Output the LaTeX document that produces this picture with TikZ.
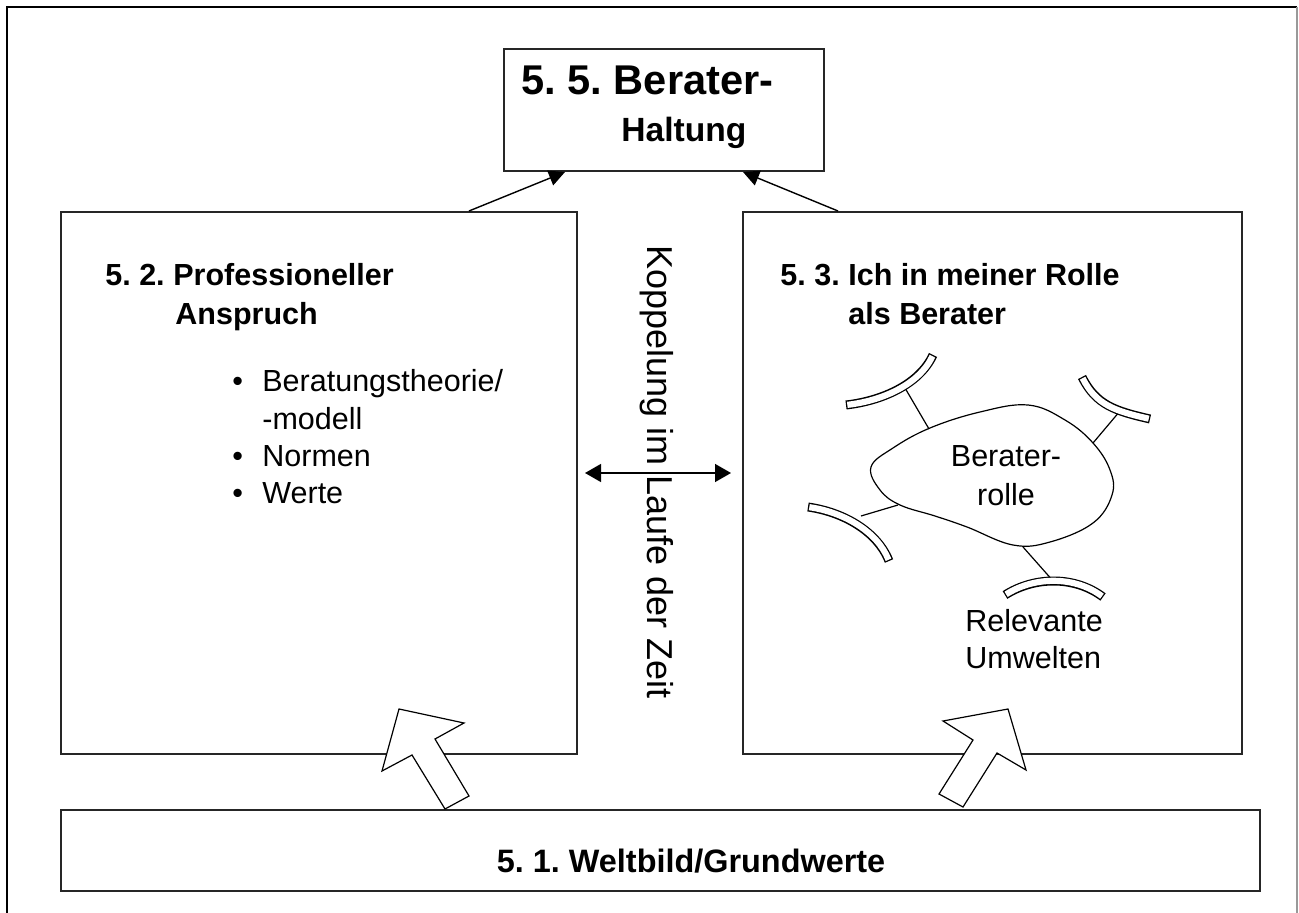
\documentclass[tikz,border=0pt]{standalone}
\usepackage{fontspec}
\setmainfont{Liberation Sans}
\usetikzlibrary{arrows.meta}
\begin{document}
\frenchspacing
\begin{tikzpicture}[x=0.5pt,y=-0.5pt,
  box/.style={draw=black!85, line width=1pt, fill=none, inner sep=0pt},
  txt/.style={font=\fontsize{15.25pt}{18pt}\selectfont, inner sep=0pt, anchor=base west},
  head/.style={font=\fontsize{15.25pt}{18pt}\selectfont\bfseries, inner sep=0pt, anchor=base west},
  link/.style={line width=0.7pt, -{Triangle[length=8pt,width=7.8pt]}},
  both/.style={line width=0.7pt, {Triangle[length=8pt,width=9pt]}-{Triangle[length=8pt,width=9pt]}},
  band/.style={draw=white, line width=3.1pt, line cap=butt, shorten <=0.65pt, shorten >=0.65pt,
    preaction={draw=black, line width=4.5pt, line cap=butt, shorten <=0pt, shorten >=0pt}},
  tie/.style={line width=0.6pt},
  blockarrow/.style={draw, fill=white, line width=0.6pt, line join=miter},
]
\useasboundingbox (0,0) rectangle (1299,913);
% page frame
\draw[line width=1pt] (7,913) -- (7,7) -- (1297,7);
\draw[line width=0.6pt, black!40] (1297,7) -- (1297,913);

% boxes
\node[box, anchor=north west, minimum width=160pt, minimum height=61pt] (haltung) at (503,48) {};
\node[box, anchor=north west, minimum width=258pt, minimum height=271pt] (prof) at (60,211) {};
\node[box, anchor=north west, minimum width=249.5pt, minimum height=271pt] (rolle) at (742,211) {};
\node[box, anchor=north west, minimum width=599.5pt, minimum height=40.5pt] (welt) at (60,809) {};

% links into the top box
\draw[link] ([xshift=204.5pt]prof.north west) -- ([xshift=-49.5pt]haltung.south);
\draw[link] ([xshift=48pt]rolle.north west) -- ([xshift=39.5pt]haltung.south);

% coupling arrow
\draw[both] ([xshift=3.5pt,yshift=5pt]prof.east) -- ([xshift=-5.5pt,yshift=5pt]rolle.west);
\node[font=\fontsize{18pt}{20pt}\selectfont, inner sep=0pt, anchor=base, rotate=-90] (zeit) at (647,472) {Koppelung im Laufe der Zeit};

% block arrows from the base
\draw[blockarrow] (399,709) -- (464,723) -- (435,739) -- (469,796) -- (445,809) -- (412,755) -- (382,771) -- cycle;
\draw[blockarrow] (1008,709) -- (943,721) -- (973,740) -- (939,794) -- (963,807) -- (997,753) -- (1026,770) -- cycle;

% texts
\node[font=\fontsize{20.8pt}{24pt}\selectfont\bfseries, inner sep=0pt, anchor=base west] (h1) at (521,95) {5. 5. Berater-};
\node[font=\fontsize{16.8pt}{20pt}\selectfont\bfseries, inner sep=0pt, anchor=base west] (h2) at (621,142) {Haltung};

\node[head] (p1n) at (105,286) {5. 2.};
\node[head] (p1) at (173,286) {Professioneller};
\node[head] (p2) at (175,325) {Anspruch};
\node[txt] (b1) at (232,392) {\textbullet};
\node[txt] (t1) at (262,392) {Beratungstheorie/};
\node[txt] (t1b) at (262,430) {-modell};
\node[txt] (b2) at (232,467) {\textbullet};
\node[txt] (t2) at (262,467) {Normen};
\node[txt] (b3) at (232,504) {\textbullet};
\node[txt] (t3) at (262,504) {Werte};

\node[head] (r1n) at (780,286) {5. 3.};
\node[head] (r1) at (848,286) {Ich in meiner Rolle};
\node[head] (r2) at (848,325) {als Berater};

\node[font=\fontsize{16.2pt}{18pt}\selectfont\bfseries, inner sep=0pt, anchor=base] (w) at (691,872) {5. 1. Weltbild/Grundwerte};

% role blob
\draw[line width=0.6pt] plot[smooth cycle, tension=0.65] coordinates {
  (871,467) (893,448) (930,428) (980,412) (1028,405) (1065,420) (1093,443)
  (1110,470) (1112,495) (1093,523) (1050,542) (1013,545) (967,527) (935,516) (900,505) (880,490)};
\node[font=\fontsize{15.25pt}{18pt}\selectfont, inner sep=0pt, anchor=base] (br1) at (1006,467) {Berater-};
\node[font=\fontsize{15.25pt}{18pt}\selectfont, inner sep=0pt, anchor=base] (br2) at (1006,506) {rolle};

% environment bands and ties
\coordinate (e1a) at (929,429); \coordinate (e1b) at (905,388);
\coordinate (e2a) at (1093,443); \coordinate (e2b) at (1120,411);
\coordinate (e3a) at (898,505); \coordinate (e3b) at (861,516);
\coordinate (e4a) at (1023,547); \coordinate (e4b) at (1054,582);
\draw[tie] (e1a) -- (e1b);
\draw[tie] (e2a) -- (e2b);
\draw[tie] (e3a) -- (e3b);
\draw[tie] (e4a) -- (e4b);
\draw[band] (846,405) .. controls (881,401) and (919,385) .. (933,355);
\draw[band] (1082,377) .. controls (1096,405) and (1115,411) .. (1150,419);
\draw[band] (808,507) .. controls (843,512) and (877,531) .. (889,561);
\draw[band] (1005,595) .. controls (1035,576) and (1075,576) .. (1103,597);

\node[txt] (u1) at (965,631) {Relevante};
\node[txt] (u2) at (965,668) {Umwelten};
\end{tikzpicture}
\end{document}
